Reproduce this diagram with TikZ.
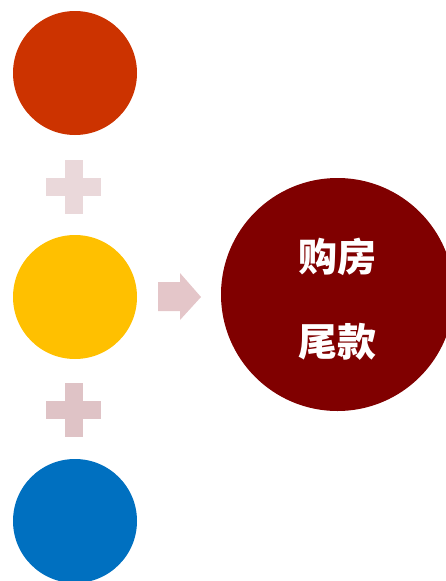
\documentclass[tikz,border=0pt]{standalone}
\usepackage{fontspec}
\newfontfamily\cjk{Noto Sans CJK SC}
\definecolor{cred}{HTML}{CC3300}
\definecolor{cyel}{HTML}{FFC000}
\definecolor{cblue}{HTML}{0070C0}
\definecolor{cdark}{HTML}{800000}
\definecolor{plusA}{HTML}{EAD8DA}
\definecolor{plusB}{HTML}{DFC3C6}
\definecolor{arr}{HTML}{E4C6C9}
\tikzset{
  dot/.style={circle, minimum size=124pt, inner sep=0pt, draw=none},
  bigdot/.style={circle, minimum size=233pt, inner sep=0pt, draw=none, fill=cdark},
  label/.style={text=white, font=\cjk\bfseries\fontsize{39}{39}\selectfont},
}
\newcommand{\plussign}[3]{%
  \fill[#3] (#1-27.5,#2-9) rectangle (#1+27.5,#2+9);
  \fill[#3] (#1-9,#2-27) rectangle (#1+9,#2+27);
}
\begin{document}
\begin{tikzpicture}[x=1pt,y=-1pt]
\useasboundingbox (0,0) rectangle (446,581);
\clip (0,0) rectangle (446,581);
\node[dot, fill=cred] (c1) at (75,73) {};
\node[dot, fill=cyel] (c2) at (75,297) {};
\node[dot, fill=cblue] (c3) at (75,521) {};
\plussign{73.5}{186.5}{plusA}
\plussign{73.5}{410}{plusB}
\fill[arr] (158,282) -- (180,282) -- (180,273) -- (201,297) -- (180,320) -- (180,311) -- (158,311) -- cycle;
\node[bigdot] (big) at (337.5,294.5) {};
\node[label] (t1) at (337.5,257) {购房};
\node[label] (t2) at (337.5,342) {尾款};
\end{tikzpicture}
\end{document}
